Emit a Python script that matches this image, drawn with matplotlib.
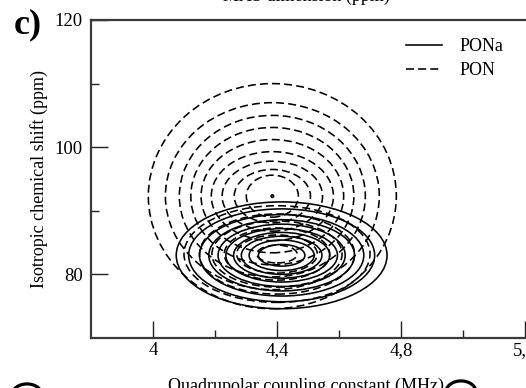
import matplotlib
matplotlib.use("Agg")
import matplotlib.pyplot as plt
from matplotlib.patches import Ellipse, Circle
from matplotlib.lines import Line2D
from matplotlib.ticker import FixedLocator

plt.rcParams['font.family'] = ['Liberation Serif', 'DejaVu Serif']

# PONa contours (solid), one ellipse per level
pona_center = (4.415, 83.0)
pona_half_w = [0.34, 0.30, 0.265, 0.235, 0.205, 0.18, 0.155, 0.13, 0.105, 0.075]
pona_half_h = [8.4, 7.3, 6.4, 5.6, 4.9, 4.2, 3.6, 3.0, 2.4, 1.7]

# PON contours (dashed): broad rings around the upper maximum
pon_ring_center = (4.385, 92.3)
pon_ring_half_w = [0.40, 0.345, 0.30, 0.263, 0.23, 0.197, 0.162, 0.123, 0.084, 0.004]
pon_ring_half_h = [17.7, 14.7, 12.7, 10.8, 8.9, 7.0, 5.5, 4.2, 3.3, 0.2]

# PON contours (dashed): flat ones around the lower maximum
pon_flat_center = (4.40, 83.2)
pon_flat_half_w = [0.30, 0.25, 0.21, 0.17, 0.13, 0.065]
pon_flat_half_h = [7.6, 6.3, 5.2, 4.1, 3.0, 1.4]

x_ticks = [4.0, 4.4, 4.8, 5.2]
x_tick_labels = ['4', '4,4', '4,8', '5,2']
x_minor = [4.2, 4.6, 5.0]
y_ticks = [80, 100, 120]
y_minor = [90, 110]

fig = plt.figure(figsize=(5.26, 3.88), dpi=100)
W, H = 526.0, 388.0
ax = fig.add_axes([91 / W, 50 / H, (556 - 91) / W, 318 / H])
ax.set_xlim(3.8, 5.3)
ax.set_ylim(70, 120)

dash = (0, (5, 2.6))
for hw, hh in zip(pona_half_w, pona_half_h):
    ax.add_patch(Ellipse(pona_center, 2 * hw, 2 * hh, fill=False,
                         ec='black', lw=1.15, ls='-'))
for hw, hh in zip(pon_ring_half_w, pon_ring_half_h):
    ax.add_patch(Ellipse(pon_ring_center, 2 * hw, 2 * hh, fill=False,
                         ec='black', lw=1.15, ls=dash))
for hw, hh in zip(pon_flat_half_w, pon_flat_half_h):
    ax.add_patch(Ellipse(pon_flat_center, 2 * hw, 2 * hh, fill=False,
                         ec='black', lw=1.15, ls=dash))

# axes styling
for side in ['left', 'bottom', 'top']:
    ax.spines[side].set_linewidth(1.6)
    ax.spines[side].set_color('#3a3a3a')
ax.spines['right'].set_visible(False)

ax.xaxis.set_major_locator(FixedLocator(x_ticks))
ax.xaxis.set_minor_locator(FixedLocator(x_minor))
ax.set_xticklabels(x_tick_labels)
ax.yaxis.set_major_locator(FixedLocator(y_ticks))
ax.yaxis.set_minor_locator(FixedLocator(y_minor))
ax.tick_params(which='both', direction='in', top=False, right=False,
               color='#222222', width=1.0, labelsize=13.5)
ax.tick_params(which='major', length=12.5)
ax.tick_params(which='minor', length=6)
ax.tick_params(axis='x', pad=3)
ax.tick_params(axis='y', pad=6)

ax.set_xlabel('Quadrupolar coupling constant (MHz)', fontsize=13)
ax.xaxis.set_label_coords((306 - 91) / (556 - 91), -40 / 318)
ax.set_ylabel('Isotropic chemical shift (ppm)', fontsize=13)
ax.yaxis.set_label_coords(-(91 - 48) / (556 - 91), 0.5)

fig.text(306 / W, 1 - 1 / H, 'MAS dimension (ppm)', fontsize=13,
         ha='center', va='baseline')
fig.text(14 / W, 1 - 25 / H, 'c)', fontsize=26, fontweight='bold',
         ha='left', va='center')

handles = [Line2D([], [], color='black', lw=1.15, ls='-'),
           Line2D([], [], color='black', lw=1.15, ls=dash)]
fig.legend(handles, ['PONa', 'PON'], loc='upper left',
           bbox_to_anchor=(406 / W, 1 - 38 / H), frameon=False,
           fontsize=13, handlelength=2.0, handletextpad=0.95,
           labelspacing=0.4, borderpad=0, borderaxespad=0)

# rings from the panel below, cut by the bottom edge
for cx, cy in [(27, 395), (461, 392)]:
    fig.add_artist(Circle((cx / W, 1 - cy / H), 15 / W, fill=False,
                          ec='black', lw=2.3, transform=fig.transFigure))

fig.savefig('out.png', dpi=100)
